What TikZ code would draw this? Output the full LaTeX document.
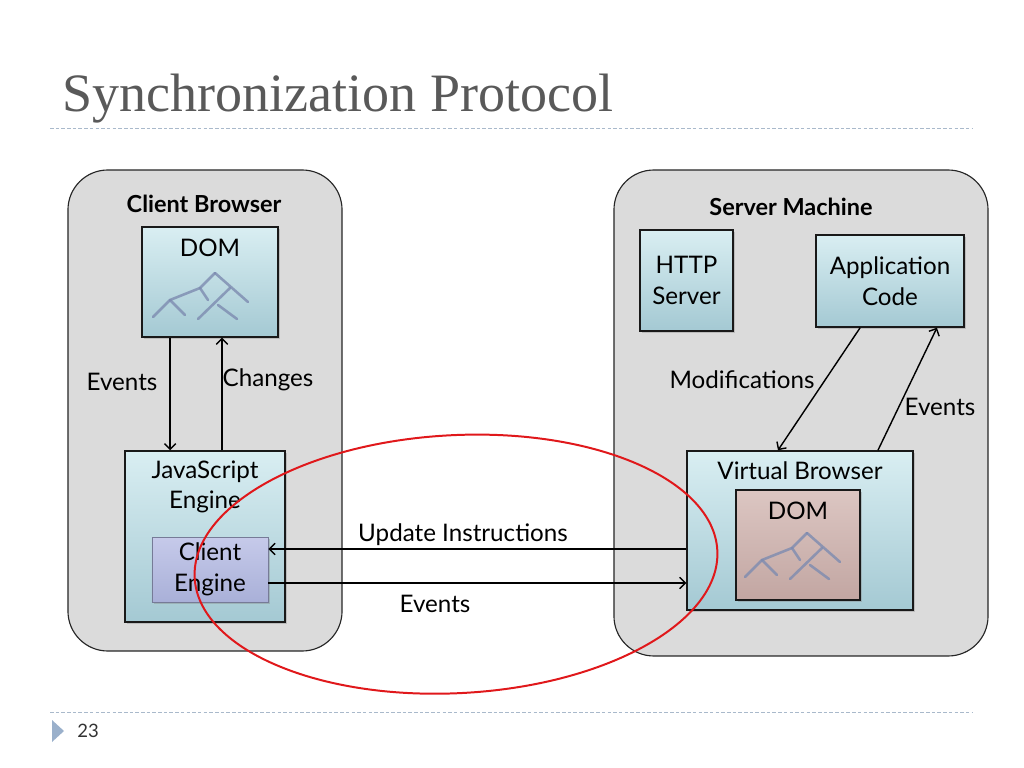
\documentclass[tikz,border=0pt]{standalone}
\usepackage{fontspec}
\setmainfont{Lato}
\newfontfamily\titlefont{Liberation Serif}
\usetikzlibrary{positioning,arrows.meta,shadows}
\definecolor{boxtop}{HTML}{D9EEF2}
\definecolor{boxbot}{HTML}{A4C9D3}
\definecolor{cetop}{HTML}{C6CAEA}
\definecolor{cebot}{HTML}{A9B0D8}
\definecolor{domtop}{HTML}{DCC6C2}
\definecolor{dombot}{HTML}{C2A6A2}
\definecolor{treeblue}{HTML}{7D8BB0}
\definecolor{rulecol}{HTML}{A9B9CB}
\definecolor{markcol}{HTML}{9AB0CB}
\definecolor{ringred}{HTML}{E0181B}

\tikzset{pics/domtree/.style={code={
  \draw[treeline] (0,0) -- (-15,15) -- (-45,27) -- (-62,44);
  \draw[treeline] (-45,27) -- (-30,42);
  \draw[treeline] (-15,15) -- (-7,27);
  \draw[treeline] (0,0) -- (33,29);
  \draw[treeline] (15,15) -- (-17,46);
  \draw[treeline] (3,32) -- (22,46);
}}}

\begin{document}
\begin{tikzpicture}[x=0.703125pt,y=-0.703125pt,
  machine/.style={draw=black!85, line width=0.8pt, fill=black!14, rounded corners=28pt, inner sep=0pt},
  box/.style={draw=black!90, line width=1pt, top color=boxtop, bottom color=boxbot, inner sep=0pt,
    drop shadow={opacity=0.35, shadow xshift=1.5pt, shadow yshift=-1.5pt}, align=center, font=\fontsize{17}{21.5}\selectfont},
  cebox/.style={box, draw=cebot!70!black, line width=0.6pt, top color=cetop, bottom color=cebot},
  dombox/.style={box, top color=domtop, bottom color=dombot},
  txt/.style={font=\fontsize{17}{21.5}\selectfont, align=center, inner sep=0pt},
  head/.style={font=\fontsize{16.5}{18}\selectfont\bfseries, inner sep=0pt},
  arr/.style={-{Straight Barb[length=4pt,width=8pt]}, line width=1pt},
  treeline/.style={draw=treeblue, line width=1.8pt, line cap=round, opacity=0.8},
  rule/.style={draw=rulecol, line width=0.6pt, dash pattern=on 2.5pt off 1.5pt}]
  \useasboundingbox (0,0) rectangle (1024,768);

  \node[anchor=base west, inner sep=0pt, text=black!65, font=\titlefont\fontsize{38}{40}\selectfont] (title) at (62,112) {Synchronization Protocol};
  \draw[rule] (50,128) -- (972,128);
  \draw[rule] (50,712) -- (972,712);
  \fill[markcol] (52,720) -- (64,731) -- (52,742) -- cycle;
  \node[font=\fontsize{13}{15}\selectfont, text=black!80] (page) at (88,731) {23};

  \node[machine, minimum width=192.7pt, minimum height=338.2pt] (client) at (205,410.5) {};
  \node[machine, minimum width=263pt, minimum height=341.7pt] (server) at (801,413) {};
  \node[head] (clientt) at (204,204) {Client Browser};
  \node[head] (servert) at (791,207) {Server Machine};

  \node[box, minimum width=95.6pt, minimum height=77.3pt] (dom) at (210,282) {};
  \node[txt, below=9pt of dom.north] (domt) {DOM};
  \pic at (215,273) {domtree};

  \node[box, minimum width=112.5pt, minimum height=120.2pt] (js) at (205,536.5) {};
  \node[txt, below=7pt of js.north] (jst) {JavaScript\\Engine};
  \node[cebox, minimum width=81.6pt, minimum height=45.7pt] (ce) at (210,569.5) {Client\\Engine};

  \node[box, minimum width=65.4pt, minimum height=71pt] (http) at (686.5,280.5) {HTTP\\Server};
  \node[box, minimum width=104pt, minimum height=64.7pt] (app) at (890,281) {Application\\Code};
  \node[box, minimum width=158.9pt, minimum height=111.8pt] (vb) at (800,530.5) {};
  \node[txt, below=7.7pt of vb.north] (vbt) {Virtual Browser};
  \node[dombox, minimum width=87.2pt, minimum height=77.3pt] (vdom) at (798,545) {};
  \node[txt, below=9pt of vdom.north] (vdomt) {DOM};
  \pic at (807,533) {domtree};

  \draw[arr] ([xshift=-28pt]dom.south) -- ([xshift=-28pt]dom.south |- js.north);
  \draw[arr] ([xshift=8.4pt]dom.south |- js.north) -- ([xshift=8.4pt]dom.south);
  \node[txt] (evl) at (122,382) {Events};
  \node[txt] (chl) at (268,380) {Changes};

  \draw[arr] ([xshift=-21pt]app.south) -- ([xshift=-15.5pt]vb.north);
  \draw[arr] ([xshift=54.8pt]vb.north) -- ([xshift=33pt]app.south);
  \node[txt] (modl) at (742,380) {Modifications};
  \node[txt] (evr) at (940,407) {Events};

  \coordinate (ui) at ([yshift=14.4pt]ce.east);
  \coordinate (ev) at ([yshift=-9.5pt]ce.east);
  \draw[arr] (vb.west |- ui) -- (ui);
  \draw[arr] (ev) -- (vb.west |- ev);
  \node[txt] (uil) at (463,535) {Update Instructions};
  \node[txt] (evm) at (435,604) {Events};

  \draw[ringred, line width=1.4pt, rotate around={3:(459,564)}] (456,564) ellipse [x radius=184pt, y radius=90.7pt];
\end{tikzpicture}
\end{document}
